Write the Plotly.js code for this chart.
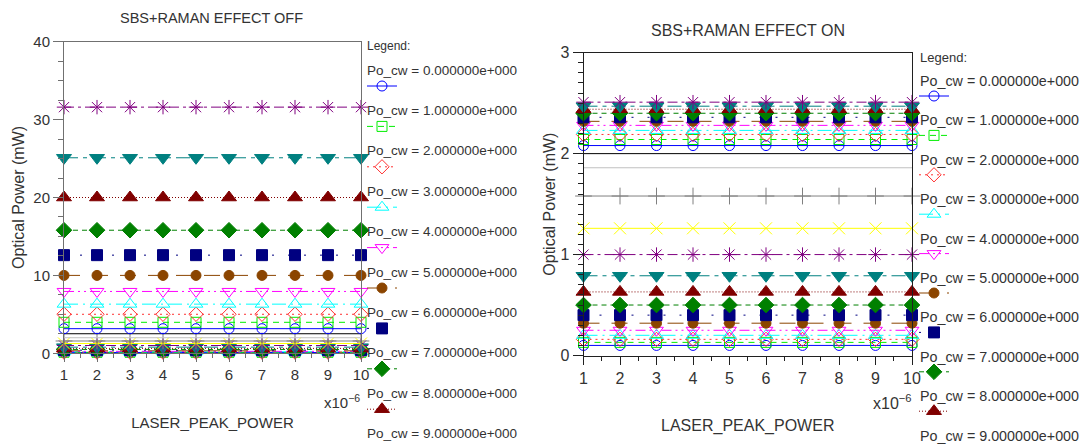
<!DOCTYPE html>
<html>
<head>
<meta charset="utf-8">
<script src="https://cdn.plot.ly/plotly-3.0.1.min.js"></script>
<style>
  html, body { margin: 0; padding: 0; background: #ffffff; }
  #chart { width: 1089px; height: 447px; }
</style>
</head>
<body>
<div id="chart"></div>
<script>
// ---------------- data ----------------
const xValues = [1e-6, 2e-6, 3e-6, 4e-6, 5e-6, 6e-6, 7e-6, 8e-6, 9e-6, 10e-6];
const xTickLabels = ['1', '2', '3', '4', '5', '6', '7', '8', '9', '10'];

// output power (mW) of each sweep, SBS+Raman OFF (constant over laser peak power)
const levelsOff = [0.10, 0.13, 0.16, 0.20, 0.25, 0.32, 0.40, 0.50, 0.63, 0.79,
                   1.00, 1.26, 1.58, 2.00, 2.51, 3.16, 3.98, 5.01, 6.31, 7.94,
                   10.0, 12.6, 15.8, 20.0, 25.1, 31.6];
// output power (mW) of each sweep, SBS+Raman ON
const levelsOn  = [0.10, 0.13, 0.16, 0.20, 0.25, 0.32, 0.40, 0.50, 0.63, 0.79,
                   1.00, 1.26, 1.58, 1.86, 2.00, 2.08, 2.14, 2.19, 2.23, 2.28,
                   2.32, 2.36, 2.40, 2.44, 2.47, 2.51];

const legendLabels = ['Po_cw = 0.000000e+000', 'Po_cw = 1.000000e+000', 'Po_cw = 2.000000e+000',
                      'Po_cw = 3.000000e+000', 'Po_cw = 4.000000e+000', 'Po_cw = 5.000000e+000',
                      'Po_cw = 6.000000e+000', 'Po_cw = 7.000000e+000', 'Po_cw = 8.000000e+000',
                      'Po_cw = 9.000000e+000'];

const titleOff = 'SBS+RAMAN EFFECT OFF';
const titleOn = 'SBS+RAMAN EFFECT ON';
const xTitle = 'LASER_PEAK_POWER';
const yTitle = 'Optical Power (mW)';

// ---------------- styles (15-entry cycle) ----------------
const styles = [
  {color: '#0000ff', symbol: 'circle-open',        size: 10, dash: 'solid'},
  {color: '#00ee00', symbol: 'square-open',        size: 10, dash: '6px,5px'},
  {color: '#ff3030', symbol: 'diamond-open',       size: 11, dash: '2px,4px'},
  {color: '#00ffff', symbol: 'triangle-up-open',   size: 12, dash: '14px,5px,2px,5px'},
  {color: '#ff00ff', symbol: 'triangle-down-open', size: 12, dash: '10px,4px,2px,4px,2px,4px'},
  {color: '#8b4500', symbol: 'circle',             size: 10, dash: '16px,12px'},
  {color: '#000080', symbol: 'square',             size: 11, dash: '2px,14px'},
  {color: '#008000', symbol: 'diamond',            size: 12, dash: '5px,4px'},
  {color: '#800000', symbol: 'triangle-up',        size: 13, dash: '1px,2px'},
  {color: '#008080', symbol: 'triangle-down',      size: 13, dash: '14px,5px,4px,5px'},
  {color: '#800080', symbol: 'asterisk-open',      size: 12, dash: '10px,4px,3px,4px'},
  {color: '#ffff00', symbol: 'x-thin-open',        size: 12, dash: 'solid'},
  {color: '#808080', symbol: 'cross-thin-open',    size: 12, dash: 'solid'},
  {color: '#c0c0c0', symbol: null,                 size: 0,  dash: 'solid'},
  {color: '#000000', symbol: null,                 size: 0,  dash: 'solid'}
];

const W = 1089, H = 447;
const FONT = 'Liberation Sans, Arial, sans-serif';
const TXT = '#333333';

function buildTraces(levels, xa, ya, legendId) {
  return levels.map((lv, k) => {
    const s = styles[k % styles.length];
    const t = {
      type: 'scatter',
      x: xValues,
      y: xValues.map(() => lv),
      xaxis: xa, yaxis: ya,
      mode: s.symbol ? 'lines+markers' : 'lines',
      line: {color: s.color, width: 1, dash: s.dash},
      cliponaxis: false,
      name: ' ',
      legend: legendId,
      legendgroup: legendId + '-' + k,
      showlegend: k < 9,
      hoverinfo: 'y'
    };
    if (s.symbol) {
      t.marker = {symbol: s.symbol, size: s.size, color: s.color,
                  line: {color: s.color, width: 1}};
    }
    return t;
  });
}

const traces = [].concat(
  buildTraces(levelsOff, 'x', 'y', 'legend'),
  buildTraces(levelsOn, 'x2', 'y2', 'legend2')
);

function px2x(p) { return p / W; }
function px2y(p) { return 1 - p / H; }

function xAxis(domain, lineColor, fs, titleFs, standoff, anchor) {
  return {
    domain: domain, anchor: anchor,
    range: [1e-6, 10e-6], type: 'linear',
    tickmode: 'array', tickvals: xValues, ticktext: xTickLabels,
    ticks: 'outside', ticklen: 8, tickcolor: lineColor, tickwidth: 1,
    minor: {tick0: 0, dtick: 0.5e-6, ticks: 'outside', ticklen: 4, tickcolor: lineColor, showgrid: false},
    showline: true, linecolor: lineColor, linewidth: 1, mirror: true,
    showgrid: false, zeroline: false,
    tickfont: {family: FONT, size: fs, color: TXT},
    title: {text: xTitle, font: {family: FONT, size: titleFs, color: TXT}, standoff: standoff},
    automargin: false, fixedrange: true
  };
}
function yAxis(domain, range, dtick, minorDtick, lineColor, fs, titleFs, standoff, labelStandoff, anchor) {
  return {
    domain: domain, anchor: anchor,
    range: range, dtick: dtick, tick0: 0,
    ticks: 'outside', ticklen: 10, tickcolor: lineColor, tickwidth: 1,
    ticklabelstandoff: labelStandoff,
    minor: {tick0: 0, dtick: minorDtick, ticks: 'outside', ticklen: 5, tickcolor: lineColor, showgrid: false},
    showline: true, linecolor: lineColor, linewidth: 1, mirror: true,
    showgrid: false, zeroline: false,
    tickfont: {family: FONT, size: fs, color: TXT},
    title: {text: yTitle, font: {family: FONT, size: titleFs, color: TXT}, standoff: standoff},
    automargin: false, fixedrange: true
  };
}

const annotations = [];
function addText(text, xp, yp, size, xanchor) {
  annotations.push({text: text, xref: 'paper', yref: 'paper', x: px2x(xp), y: px2y(yp),
                    xanchor: xanchor, yanchor: 'middle', showarrow: false,
                    font: {family: FONT, size: size, color: TXT}});
}
// panel titles
addText(titleOff, 212, 18, 14.5, 'center');
addText(titleOn, 748, 30, 16, 'center');
// exponent labels
addText('x10<sup>\u22126</sup>', 362, 401, 15, 'right');
addText('x10<sup>\u22126</sup>', 914, 402, 16, 'right');
// legend texts
addText('Legend:', 365, 46, 12, 'left');
legendLabels.forEach((lab, i) => addText(lab, 365, 70 + 40.4 * i, 13.5, 'left'));
addText('Legend:', 918, 57, 13, 'left');
legendLabels.forEach((lab, i) => addText(lab, 918, 81 + 39.4 * i, 14.3, 'left'));

const layout = {
  width: W, height: H,
  margin: {l: 0, r: 0, t: 0, b: 0, pad: 0},
  paper_bgcolor: '#ffffff', plot_bgcolor: '#ffffff',
  font: {family: FONT, color: TXT},
  xaxis: xAxis([px2x(64), px2x(361)], '#707070', 15, 15, 35, 'y'),
  yaxis: yAxis([px2y(353.3), px2y(41.7)], [0, 40], 10, 2.5, '#707070', 15, 16, 4, 0, 'x'),
  xaxis2: xAxis([px2x(583.5), px2x(912)], '#202020', 16, 16, 34, 'y2'),
  yaxis2: yAxis([px2y(355.5), px2y(52.7)], [0, 3], 1, 0.1, '#202020', 16, 16, 0, 0, 'x2'),
  legend: {x: px2x(362), y: px2y(71.5), xanchor: 'left', yanchor: 'top',
           bgcolor: 'rgba(0,0,0,0)', borderwidth: 0, font: {family: FONT, size: 10},
           traceorder: 'grouped', tracegroupgap: 21.4, itemclick: false, itemdoubleclick: false},
  legend2: {x: px2x(914), y: px2y(81.5), xanchor: 'left', yanchor: 'top',
           bgcolor: 'rgba(0,0,0,0)', borderwidth: 0, font: {family: FONT, size: 10},
           traceorder: 'grouped', tracegroupgap: 20.4, itemclick: false, itemdoubleclick: false},
  annotations: annotations,
  showlegend: true
};

Plotly.newPlot('chart', traces, layout, {displayModeBar: false, staticPlot: true});
</script>
</body>
</html>
